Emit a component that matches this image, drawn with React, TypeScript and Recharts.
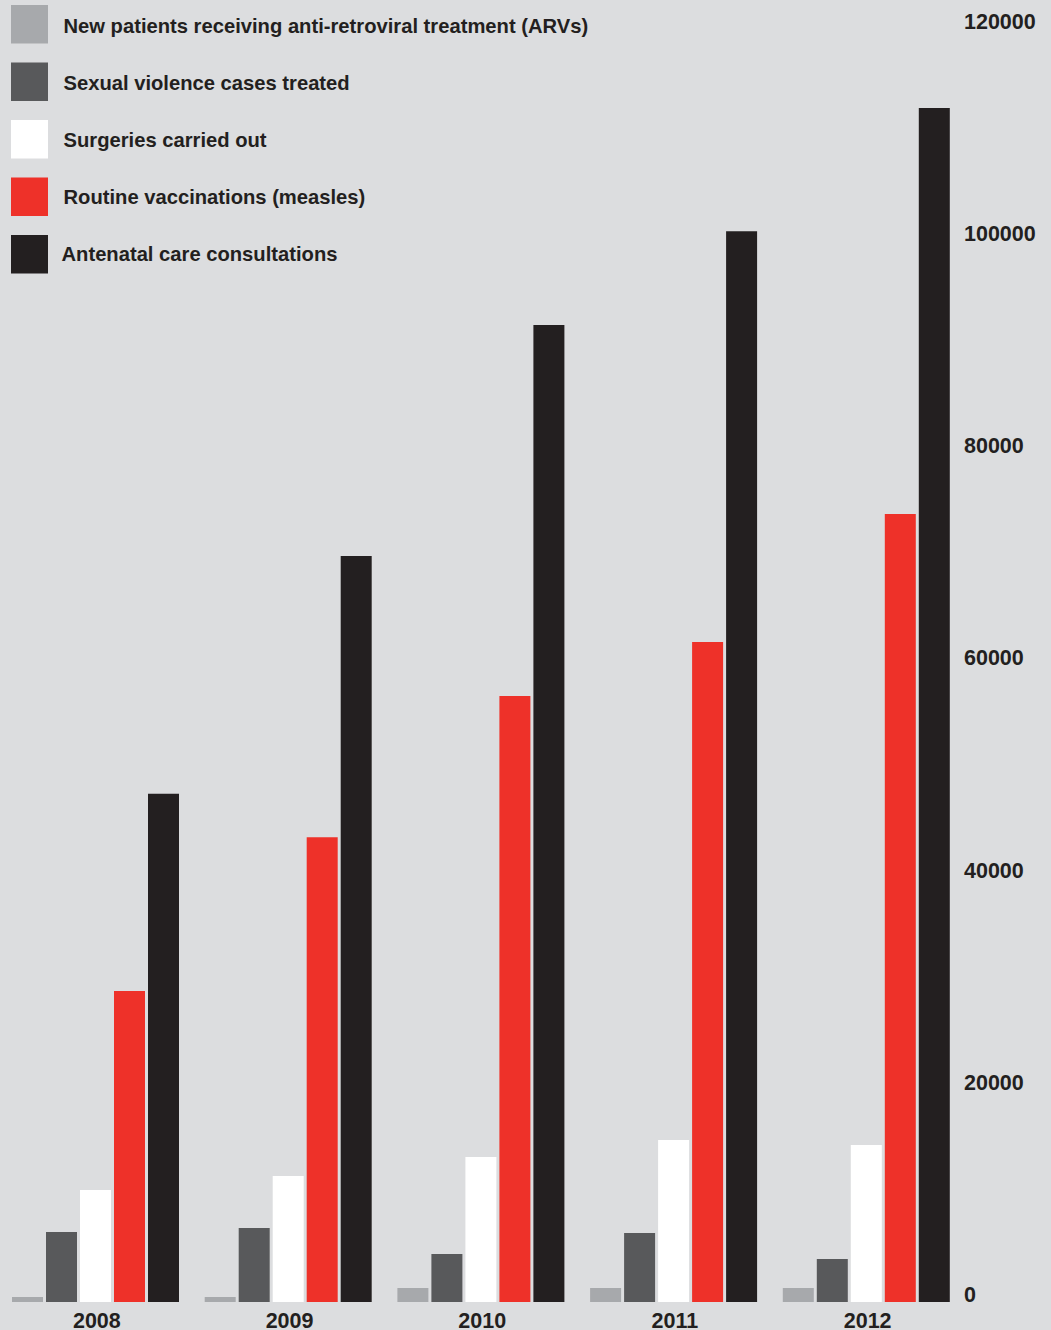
import React from 'react';
import { BarChart, Bar, XAxis, YAxis } from 'recharts';

// Values
const years = ['2008', '2009', '2010', '2011', '2012'];
const arvPatients = [470, 470, 1320, 1320, 1320];
const sexualViolence = [6600, 6970, 4520, 6500, 4050];
const surgeries = [10550, 11870, 13660, 15260, 14790];
const measlesVaccinations = [29300, 43800, 57100, 62190, 74250];
const antenatalConsultations = [47900, 70300, 92060, 100900, 112500];
const yTicks = [0, 20000, 40000, 60000, 80000, 100000, 120000];

const series = [
  { key: 'arv', name: 'New patients receiving anti-retroviral treatment (ARVs)', color: '#a7a9ac', values: arvPatients },
  { key: 'sv', name: 'Sexual violence cases treated', color: '#58595b', values: sexualViolence },
  { key: 'surg', name: 'Surgeries carried out', color: '#ffffff', values: surgeries },
  { key: 'measles', name: 'Routine vaccinations (measles)', color: '#ee3129', values: measlesVaccinations },
  { key: 'anc', name: 'Antenatal care consultations', color: '#231f20', values: antenatalConsultations },
];

const data = years.map((year, i) => {
  const row: Record<string, string | number> = { year };
  series.forEach((s) => {
    row[s.key] = s.values[i];
  });
  return row;
});

const FONT = '"Liberation Sans", Arial, Helvetica, sans-serif';
const TEXT = '#231f20';

const XTick = (props: any) => {
  const { x, y, payload } = props;
  return (
    <text x={x + 2} y={y + 26} textAnchor="middle" fontFamily={FONT} fontWeight="bold" fontSize={21.5} fill={TEXT}>
      {payload.value}
    </text>
  );
};

const YTick = (props: any) => {
  const { x, y, payload } = props;
  return (
    <text x={x + 2} y={y} textAnchor="start" fontFamily={FONT} fontWeight="bold" fontSize={21.5} fill={TEXT}>
      {payload.value}
    </text>
  );
};

const App: React.FC = () => {
  return (
    <div style={{ position: 'absolute', left: 0, top: 0, width: 1051, height: 1330, background: '#dcdddf' }}>
      <BarChart
        width={1051}
        height={1330}
        data={data}
        margin={{ top: 28.5, right: 0, bottom: 0, left: -1.5 }}
        barCategoryGap={13.5}
        barGap={3}
      >
        <XAxis dataKey="year" axisLine={false} tickLine={false} tickSize={0} tickMargin={0} height={28} tick={<XTick />} interval={0} />
        <YAxis
          orientation="right"
          width={89}
          domain={[0, 120000]}
          ticks={yTicks}
          axisLine={false}
          tickLine={false}
          tickSize={0}
          tickMargin={0}
          tick={<YTick />}
          interval={0}
        />
        {series.map((s) => (
          <Bar key={s.key} dataKey={s.key} name={s.name} fill={s.color} isAnimationActive={false} />
        ))}
      </BarChart>

      {/* Legend */}
      <svg width={620} height={290} style={{ position: 'absolute', left: 0, top: 0 }}>
        {series.map((s, i) => {
          const top = 5 + i * 57.5;
          return (
            <g key={s.key}>
              <rect x={11} y={top} width={37} height={38.5} fill={s.color} />
              <text x={i === 4 ? 61.5 : 63.5} y={32.5 + i * 57} fontFamily={FONT} fontWeight="bold" fontSize={20.2} fill={TEXT}>
                {s.name}
              </text>
            </g>
          );
        })}
      </svg>
    </div>
  );
};

export default App;
